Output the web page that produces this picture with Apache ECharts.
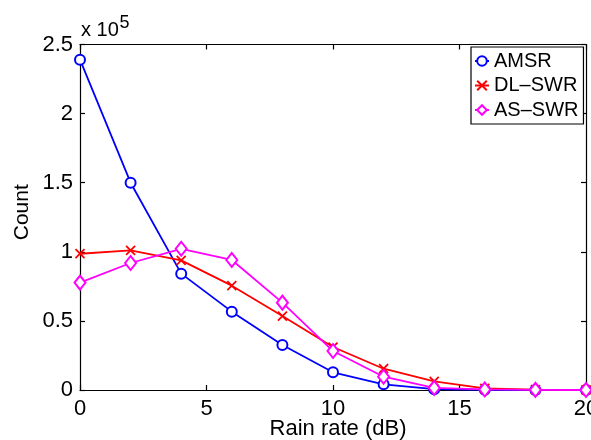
<!DOCTYPE html>
<html>
<head>
<meta charset="utf-8">
<script src="https://cdn.jsdelivr.net/npm/echarts@6/dist/echarts.min.js"></script>
<style>
html,body{margin:0;padding:0;background:#fff;}
#c{width:591px;height:440px;}
</style>
</head>
<body>
<div id="c"></div>
<script>
var rainRate = [0, 2, 4, 6, 8, 10, 12, 14, 16, 18, 20];
var amsr   = [239000, 150000, 84200, 56700, 32600, 12800, 4100, 600, 100, 0, 0];
var dlSwr  = [98600, 101100, 93800, 75500, 53500, 31100, 15400, 6300, 1200, 300, 100];
var asSwr  = [77700, 91900, 102200, 94100, 63200, 28200, 9600, 1500, 400, 100, 0];
var xTicks = [0, 5, 10, 15, 20];
var yTicks = [0, 0.5, 1, 1.5, 2, 2.5];

function pairs(ys){ return rainRate.map(function(x,i){ return [x, ys[i]]; }); }

var FONT = 'Liberation Sans, Arial, Helvetica, sans-serif';
var chart = echarts.init(document.getElementById('c'), null, {renderer:'canvas'});
var crossPath = 'path://M0,0L10,10M10,0L0,10';

var axisCommon = {
  axisLine:{show:true, onZero:false, lineStyle:{color:'#000', width:1.2}},
  axisTick:{show:true, inside:true, length:5, lineStyle:{color:'#000', width:1.2}},
  splitLine:{show:false}
};

chart.setOption({
  backgroundColor:'#fff',
  animation:false,
  grid:{left:80, top:44.5, right:5, bottom:50, containLabel:false, outerBoundsMode:'none'},
  xAxis:[
    Object.assign({type:'value', min:xTicks[0], max:xTicks[xTicks.length-1], interval:5, position:'bottom',
      name:'Rain rate (dB)', nameLocation:'middle', nameGap:28, nameMoveOverlap:false,
      nameTextStyle:{fontFamily:FONT, fontSize:22, color:'#000', padding:[0,0,0,10]},
      axisLabel:{show:true, margin:8, fontFamily:FONT, fontSize:22, color:'#000'}}, axisCommon),
    Object.assign({type:'value', min:xTicks[0], max:xTicks[xTicks.length-1], interval:5, position:'top',
      axisLabel:{show:false}}, axisCommon)
  ],
  yAxis:[
    Object.assign({type:'value', min:0, max:250000, interval:50000, position:'left',
      name:'Count', nameLocation:'middle', nameGap:47, nameMoveOverlap:false,
      nameTextStyle:{fontFamily:FONT, fontSize:21, color:'#000', padding:[0,0,0,10]},
      axisLabel:{show:true, margin:7, fontFamily:FONT, fontSize:22, color:'#000',
        formatter:function(v){ var t = v/1e5; var idx = yTicks.indexOf(Math.round(t*10)/10); return idx>=0 ? String(yTicks[idx]) : ''; }}}, axisCommon),
    Object.assign({type:'value', min:0, max:250000, interval:50000, position:'right',
      axisLabel:{show:false}}, axisCommon)
  ],
  graphic:[
    {type:'text', x:81, y:30, style:{text:'x 10', fontFamily:FONT, fontSize:20, fill:'#000', verticalAlign:'middle', align:'left'}},
    {type:'text', x:119.5, y:23, style:{text:'5', fontFamily:FONT, fontSize:18, fill:'#000', verticalAlign:'middle', align:'left'}}
  ],
  legend:{
    orient:'vertical', left:471, top:47,
    backgroundColor:'#fff', borderColor:'#000', borderWidth:1.2,
    padding:[4,5,4,3], itemGap:4.5, itemWidth:14, itemHeight:12,
    textStyle:{fontFamily:FONT, fontSize:20, color:'#000', lineHeight:20},
    data:['AMSR','DL–SWR','AS–SWR']
  },
  series:[
    {name:'AMSR', type:'line', data:pairs(amsr), symbol:'emptyCircle', symbolSize:10,
      lineStyle:{color:'#0000ff', width:1.8}, itemStyle:{color:'#0000ff', borderColor:'#0000ff', borderWidth:1.6}},
    {name:'DL–SWR', type:'line', data:pairs(dlSwr), symbol:crossPath, symbolSize:9,
      lineStyle:{color:'#ff0000', width:1.8}, itemStyle:{color:'#ff0000', borderColor:'#ff0000', borderWidth:1.8}},
    {name:'AS–SWR', type:'line', data:pairs(asSwr), symbol:'emptyDiamond', symbolSize:[11,14],
      lineStyle:{color:'#ff00ff', width:1.8}, itemStyle:{color:'#ff00ff', borderColor:'#ff00ff', borderWidth:1.6}}
  ]
});
</script>
</body>
</html>
